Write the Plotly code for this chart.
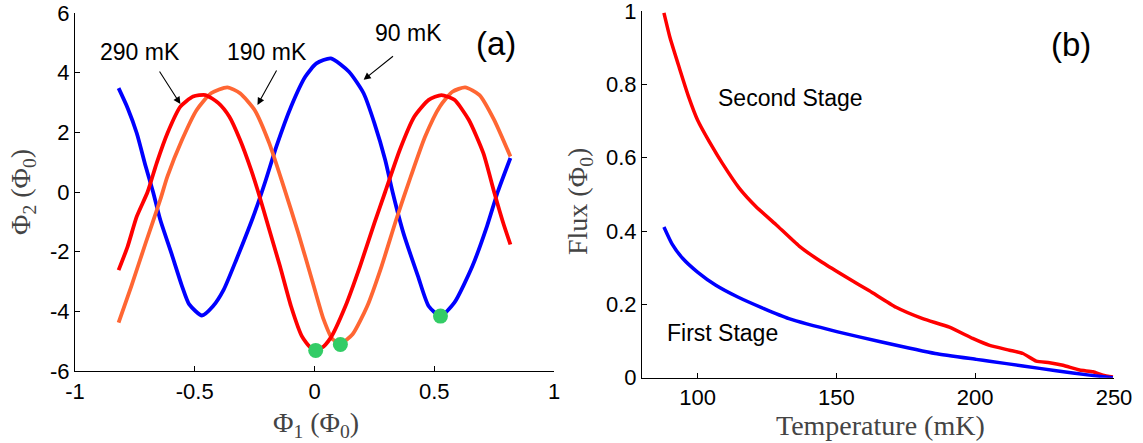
import plotly.graph_objects as go

# ---- panel (a): Phi2 vs Phi1 trajectories at three temperatures ----
phi1_90 = [-0.818, -0.78, -0.742, -0.705, -0.674, -0.644, -0.598, -0.553, -0.523, -0.47,
           -0.424, -0.379, -0.326, -0.25, -0.205, -0.159, -0.098, -0.038, 0.008, 0.068,
           0.144, 0.205, 0.25, 0.295, 0.326, 0.371, 0.432, 0.477, 0.526, 0.584,
           0.659, 0.72, 0.765, 0.818]
phi2_90 = [3.48, 2.81, 1.97, 0.86, 0.0, -0.93, -2.04, -3.16, -3.77, -4.14,
           -3.83, -3.27, -2.26, -0.70, 0.36, 1.53, 2.86, 3.87, 4.31, 4.48,
           4.03, 3.31, 2.31, 1.08, 0.0, -1.37, -2.82, -3.83, -4.16, -3.71,
           -2.49, -1.15, 0.0, 1.14]

phi1_190 = [-0.818, -0.765, -0.705, -0.644, -0.614, -0.553, -0.492, -0.432, -0.364, -0.311,
            -0.25, -0.189, -0.129, -0.068, -0.007, 0.038, 0.076, 0.114, 0.159, 0.22,
            0.28, 0.341, 0.402, 0.462, 0.523, 0.576, 0.629, 0.689, 0.75, 0.818]
phi2_190 = [-4.38, -3.16, -1.71, -0.26, 0.52, 1.75, 2.75, 3.31, 3.51, 3.31,
            2.75, 1.64, 0.19, -1.37, -3.04, -4.27, -4.94, -5.05, -4.77, -3.83,
            -2.49, -0.93, 0.52, 1.86, 2.86, 3.36, 3.51, 3.25, 2.42, 1.19]

phi1_290 = [-0.818, -0.78, -0.742, -0.697, -0.659, -0.614, -0.56, -0.507, -0.455, -0.401,
            -0.356, -0.311, -0.265, -0.235, -0.189, -0.144, -0.098, -0.053, -0.015, 0.030,
            0.068, 0.129, 0.19, 0.25, 0.295, 0.356, 0.417, 0.477, 0.53, 0.584,
            0.644, 0.705, 0.75, 0.788, 0.818]
phi2_290 = [-2.62, -1.82, -0.82, 0.0, 0.97, 1.97, 2.86, 3.20, 3.25, 2.98,
            2.53, 1.75, 0.75, 0.0, -1.26, -2.49, -3.83, -4.83, -5.22, -5.22,
            -4.88, -3.83, -2.49, -1.04, 0.0, 1.41, 2.53, 3.09, 3.25, 3.09,
            2.42, 1.30, 0.0, -1.04, -1.76]

# minima marked with dots
min_phi1 = [0.005, 0.108, 0.526]
min_phi2 = [-5.31, -5.11, -4.16]

# ---- panel (b): flux vs temperature ----
temp_second = [87.9, 90.1, 93.4, 96.7, 100.0, 105.3, 108.9, 115.0, 121.0, 128.2,
               136.6, 145.0, 154.7, 161.9, 171.5, 181.1, 190.7, 199.1, 205.2, 212.4,
               217.2, 222.0, 226.8, 231.6, 237.6, 242.4, 246.0, 249.6]
flux_second = [0.995, 0.927, 0.846, 0.768, 0.703, 0.630, 0.585, 0.517, 0.467, 0.418,
               0.359, 0.314, 0.269, 0.237, 0.192, 0.161, 0.138, 0.107, 0.088, 0.075,
               0.066, 0.045, 0.041, 0.034, 0.021, 0.016, 0.007, 0.002]

temp_first = [87.9, 90.8, 94.7, 100.0, 106.6, 114.5, 123.7, 132.9, 150.5, 165.9,
              185.6, 200.4, 205.2, 217.2, 229.2, 241.2, 249.6]
flux_first = [0.411, 0.365, 0.325, 0.288, 0.252, 0.220, 0.189, 0.161, 0.125, 0.098,
              0.066, 0.050, 0.045, 0.032, 0.019, 0.007, 0.0]

BLUE = "#0000FF"
RED = "#FF0000"
ORANGE = "#FF6633"
GREEN = "#33CC66"
LW = 3.8

fig = go.Figure()

curve = dict(shape="spline", smoothing=0.6)
fig.add_trace(go.Scatter(x=phi1_90, y=phi2_90, mode="lines", line=dict(color=BLUE, width=LW, **curve),
                         xaxis="x", yaxis="y"))
fig.add_trace(go.Scatter(x=phi1_190, y=phi2_190, mode="lines", line=dict(color=ORANGE, width=LW, **curve),
                         xaxis="x", yaxis="y"))
fig.add_trace(go.Scatter(x=phi1_290, y=phi2_290, mode="lines", line=dict(color=RED, width=LW, **curve),
                         xaxis="x", yaxis="y"))
fig.add_trace(go.Scatter(x=min_phi1, y=min_phi2, mode="markers", marker=dict(color=GREEN, size=15),
                         xaxis="x", yaxis="y"))

fig.add_trace(go.Scatter(x=temp_second, y=flux_second, mode="lines",
                         line=dict(color=RED, width=3.5, shape="spline", smoothing=0.5),
                         xaxis="x2", yaxis="y2"))
fig.add_trace(go.Scatter(x=temp_first, y=flux_first, mode="lines",
                         line=dict(color=BLUE, width=3.5, shape="spline", smoothing=0.5),
                         xaxis="x2", yaxis="y2"))

W, H = 1143, 443


def px_x(p):
    return p / W


def px_y(p):
    return (H - p) / H


SANS = "Liberation Sans, Arial, Helvetica, sans-serif"
SERIF = "Liberation Serif, Times New Roman, serif"

axis_common = dict(showline=True, linecolor="black", linewidth=1.2, ticks="inside", ticklen=5,
                   tickcolor="black", showgrid=False, zeroline=False, mirror=False, automargin=False,
                   ticklabeloverflow="allow",
                   tickfont=dict(family=SANS, size=22, color="black"))

fig.update_layout(
    width=W, height=H,
    margin=dict(l=0, r=0, t=0, b=0, pad=0),
    paper_bgcolor="white", plot_bgcolor="white",
    showlegend=False,
    xaxis=dict(domain=[px_x(75), px_x(554)], range=[-1, 1], tickvals=[-1, -0.5, 0, 0.5, 1],
               ticktext=["-1", "-0.5", "0", "0.5", "1"], anchor="y", **axis_common),
    yaxis=dict(domain=[px_y(371), px_y(13)], range=[-6, 6], tickvals=[-6, -4, -2, 0, 2, 4, 6],
               ticktext=["-6", "-4", "-2", "0", "2", "4", "6"], anchor="x", **axis_common),
    xaxis2=dict(domain=[px_x(642), px_x(1114)], range=[80, 250], tickvals=[100, 150, 200, 250],
                anchor="y2", **axis_common),
    yaxis2=dict(domain=[px_y(377.7), px_y(11)], range=[0, 1], tickvals=[0, 0.2, 0.4, 0.6, 0.8, 1],
                ticktext=["0", "0.2", "0.4", "0.6", "0.8", "1"], anchor="x2", **axis_common),
)

sans = dict(family=SANS, size=23, color="black")
big = dict(family=SANS, size=33, color="black")
serif = dict(family=SERIF, size=28, color="#444444")
mid = dict(xanchor="center", yanchor="middle", showarrow=False)

annotations = []
# temperature labels and arrows in (a)
annotations.append(dict(x=-0.729, y=4.69, xref="x", yref="y", text="290 mK", font=sans, **mid))
annotations.append(dict(x=-0.197, y=4.69, xref="x", yref="y", text="190 mK", font=sans, **mid))
annotations.append(dict(x=0.394, y=5.32, xref="x", yref="y", text="90 mK", font=sans, **mid))
for (hx, hy, tx, ty) in [(-0.56, 2.95, -0.651, 4.09), (-0.238, 2.92, -0.155, 4.12), (0.205, 3.76, 0.334, 4.59)]:
    annotations.append(dict(x=hx, y=hy, ax=tx, ay=ty, xref="x", yref="y", axref="x", ayref="y",
                            text="", showarrow=True, arrowhead=2, arrowsize=1.3, arrowwidth=1.1,
                            arrowcolor="black"))
annotations.append(dict(x=0.758, y=4.98, xref="x", yref="y", text="(a)", font=big, **mid))

# labels in (b)
annotations.append(dict(x=133.6, y=0.763, xref="x2", yref="y2", text="Second Stage", font=sans, **mid))
annotations.append(dict(x=108.9, y=0.122, xref="x2", yref="y2", text="First Stage", font=sans, **mid))
annotations.append(dict(x=234.6, y=0.909, xref="x2", yref="y2", text="(b)", font=big, **mid))

# axis titles
annotations.append(dict(x=px_x(316), y=px_y(424), xref="paper", yref="paper",
                        text="Φ<sub>1</sub> (Φ<sub>0</sub>)", font=serif, **mid))
annotations.append(dict(x=px_x(22), y=px_y(192), xref="paper", yref="paper", textangle=-90,
                        text="Φ<sub>2</sub> (Φ<sub>0</sub>)", font=serif, **mid))
annotations.append(dict(x=px_x(880), y=px_y(425), xref="paper", yref="paper",
                        text="Temperature (mK)", font=serif, **mid))
annotations.append(dict(x=px_x(579), y=px_y(202), xref="paper", yref="paper", textangle=-90,
                        text="Flux (Φ<sub>0</sub>)", font=serif, **mid))

fig.update_layout(annotations=annotations)

fig.write_html("out.html")
